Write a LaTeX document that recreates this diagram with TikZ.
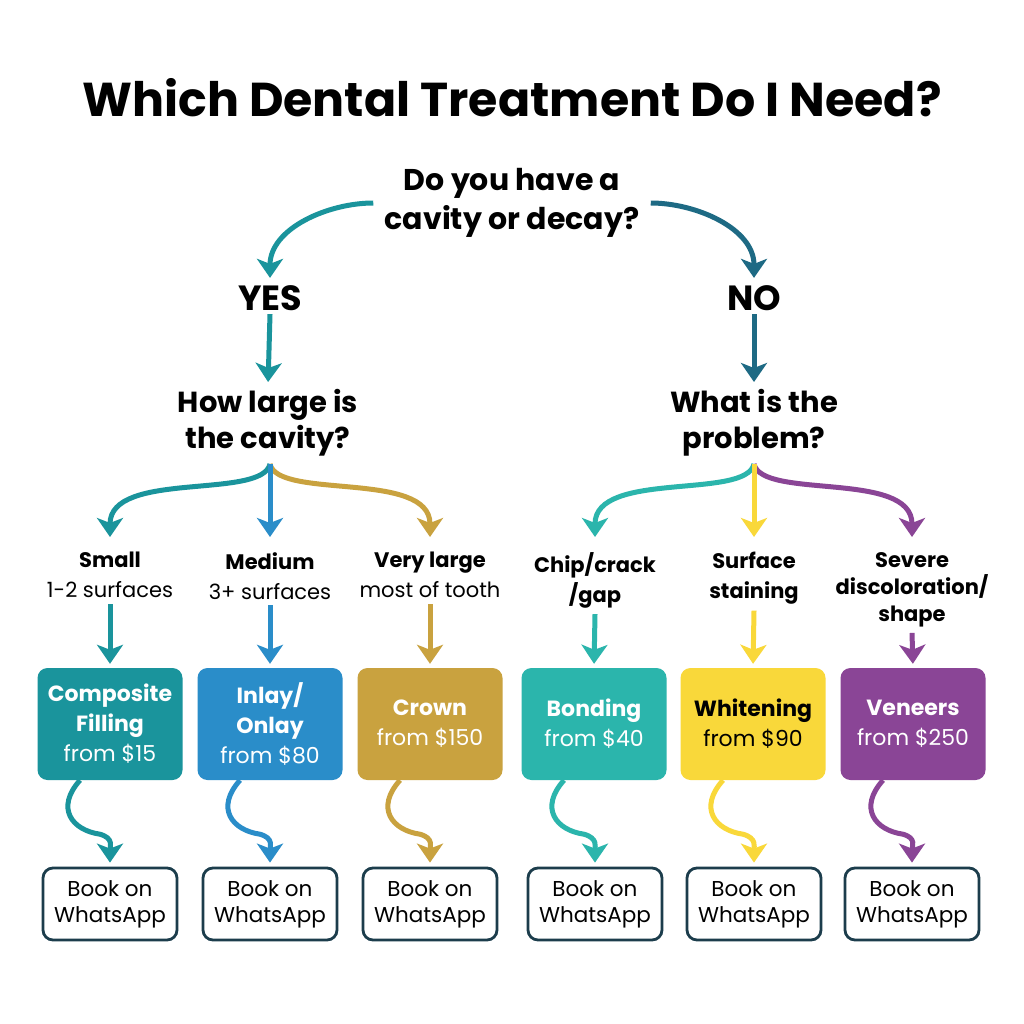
\documentclass[tikz,border=0pt]{standalone}
\usepackage{fontspec}
\setmainfont{Poppins}
\usetikzlibrary{arrows.meta,calc}

\definecolor{cTeal}{HTML}{1A949C}
\definecolor{cNavy}{HTML}{1E6A84}
\definecolor{cBlue}{HTML}{2A8DC9}
\definecolor{cGold}{HTML}{C9A23F}
\definecolor{cAqua}{HTML}{2BB5AC}
\definecolor{cYellow}{HTML}{F9D83A}
\definecolor{cPurple}{HTML}{8A4596}
\definecolor{bookline}{HTML}{1C3D4C}

\tikzset{
  titletext/.style={font=\bfseries\fontsize{47.5}{56}\selectfont},
  ask/.style={align=center,font=\bfseries\fontsize{29}{36}\selectfont},
  reply/.style={font=\bfseries\fontsize{35}{40}\selectfont},
  choice/.style={anchor=north,align=center,inner sep=6pt,font=\fontsize{21}{30}\selectfont},
  treat/.style={rounded corners=10pt,minimum width=145pt,minimum height=112pt,
    text=white,align=center,font=\fontsize{22}{30}\selectfont},
  book/.style={draw=bookline,line width=2.8pt,rounded corners=10pt,fill=white,
    minimum width=134pt,minimum height=72pt,align=center,font=\fontsize{21.5}{26}\selectfont},
  flow/.style={line width=5pt,-{Stealth[length=19pt,width=26pt,inset=5pt]},shorten >=4pt}
}

\begin{document}
\begin{tikzpicture}[x=1pt,y=-1pt]
  \useasboundingbox[fill=white] (0,0) rectangle (1024,1024);
  \node (title) at (512,98) [titletext] {Which Dental Treatment Do I Need?};
  \node (q1) at (512,203) [ask,font=\bfseries\fontsize{30}{39}\selectfont] {Do you have a\\cavity or decay?};
  \node (yes) at (270,298) [reply] {YES};
  \node (no) at (754,298) [reply] {NO};
  \node (qL) at (268,423) [ask] {How large is\\the cavity?};
  \node (qR) at (754,423) [ask] {What is the\\problem?};
  \coordinate (splitL) at (270,464);
  \coordinate (splitR) at (754,464);
  % answers
  \node (small) at (110,546) [choice] {{\bfseries Small}\\1-2 surfaces};
  \node (medium) at (270,546) [choice] {{\bfseries Medium}\\3+ surfaces};
  \node (vlarge) at (430,546) [choice] {{\bfseries Very large}\\most of tooth};
  \node (chip) at (595,546) [choice,font=\bfseries\fontsize{21}{30}\selectfont] {Chip/crack\\/gap};
  \node (stain) at (754,546) [choice,font=\bfseries\fontsize{21}{30}\selectfont] {Surface\\staining};
  \node (severe) at (912,546) [choice,font=\bfseries\fontsize{21}{27}\selectfont] {Severe\\discoloration/\\shape};
  % treatments
  \node (cmp) at (110,724) [treat,fill=cTeal] {\textbf{Composite}\\\textbf{Filling}\\from \$15};
  \node (inl) at (270,724) [treat,fill=cBlue] {\textbf{Inlay/}\\\textbf{Onlay}\\from \$80};
  \node (crw) at (430,724) [treat,fill=cGold] {\textbf{Crown}\\from \$150};
  \node (bnd) at (594,724) [treat,fill=cAqua] {\textbf{Bonding}\\from \$40};
  \node (wht) at (753,724) [treat,fill=cYellow,text=black] {\textbf{Whitening}\\from \$90};
  \node (ven) at (913,724) [treat,fill=cPurple] {\textbf{Veneers}\\from \$250};
  \foreach \n/\x in {1/110,2/270,3/430,4/595,5/754,6/912}
    \node (bk\n) at (\x,904) [book] {Book on\\WhatsApp};

  % top of the tree
  \draw[flow,cTeal,shorten <=8pt] (q1.west) to[out=180,in=90] (yes.north);
  \draw[flow,cNavy,shorten <=8pt] (q1.east) to[out=0,in=90] (no.north);
  \draw[flow,cTeal] (yes.south) -- (qL.north);
  \draw[flow,cNavy] (no.south) -- (qR.north);

  % branches
  \draw[flow,cTeal,shorten >=9pt] (splitL) .. controls (262,500) and (110,470) .. (small.north);
  \draw[flow,cGold,shorten >=9pt] (splitL) .. controls (278,500) and (430,470) .. (vlarge.north);
  \draw[flow,cBlue,shorten >=9pt] (splitL) -- (medium.north);
  \draw[flow,cAqua,shorten >=9pt] (splitR) .. controls (746,500) and (595,470) .. (chip.north);
  \draw[flow,cPurple,shorten >=9pt] (splitR) .. controls (762,500) and (912,470) .. (severe.north);
  \draw[flow,cYellow,shorten >=9pt] (splitR) -- (stain.north);

  \draw[flow,cTeal] (small.south) -- (cmp.north);
  \draw[flow,cBlue] (medium.south) -- (inl.north);
  \draw[flow,cGold] (vlarge.south) -- (crw.north);
  \draw[flow,cAqua] (chip.south) -- (bnd.north);
  \draw[flow,cYellow] (stain.south) -- (wht.north);
  \draw[flow,cPurple] (severe.south) -- (ven.north);

  % to booking
  \foreach \t/\b/\c in {cmp/bk1/cTeal,inl/bk2/cBlue,crw/bk3/cGold,bnd/bk4/cAqua,wht/bk5/cYellow,ven/bk6/cPurple}
    \draw[flow,color=\c] ([xshift=-30pt]\t.south) .. controls +(-25,28) and +(-28,-4) ..
      ($(\t.south)+(-10,54)$) .. controls +(14,4) and +(0,-20) .. (\b.north);
\end{tikzpicture}
\end{document}
